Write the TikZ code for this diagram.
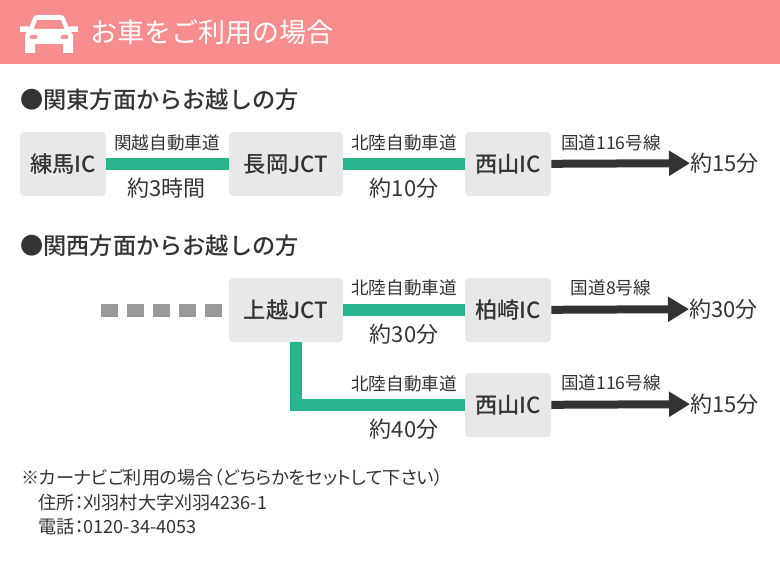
\documentclass[tikz,border=0pt]{standalone}
\usepackage{fontspec}
\setmainfont{Noto Sans CJK JP}[BoldFont={Noto Sans CJK JP Medium}]
\newfontfamily\notefont{Noto Sans CJK JP}[RawFeature=+palt]
\usepackage{xcolor}
\usetikzlibrary{arrows.meta,positioning}
\definecolor{headpink}{HTML}{F88D90}
\definecolor{roadgreen}{HTML}{28B48C}
\definecolor{boxgray}{HTML}{E7E8EA}
\definecolor{inkdark}{HTML}{333333}
\definecolor{dashgray}{HTML}{999999}

\begin{document}
\begin{tikzpicture}[
  x=0.75pt, y=-0.75pt,
  icbox/.style={fill=boxgray, rounded corners=3pt, minimum height=48pt, inner sep=0pt, font=\fontsize{16.7}{18}\selectfont\bfseries, text=inkdark},
  icnarrow/.style={icbox, minimum width=64.5pt},
  icwide/.style={icbox, minimum width=85.5pt},
  road/.style={draw=roadgreen, line width=9pt},
  route/.style={draw=inkdark, line width=6pt, -{Triangle[length=15.75pt,width=18pt]}},
  lead/.style={draw=dashgray, line width=9.75pt, dash pattern=on 12.75pt off 6.75pt},
  roadname/.style={font=\fontsize{13.2}{15}\selectfont, text=inkdark, inner sep=0pt},
  timetext/.style={font=\fontsize{16.5}{18}\selectfont, text=inkdark, inner sep=0pt},
  headtext/.style={font=\fontsize{17.4}{20}\selectfont\bfseries, text=inkdark, inner sep=0pt, anchor=west},
  notetext/.style={font=\notefont\fontsize{13.6}{15}\selectfont, text=inkdark, inner sep=0pt, anchor=west}
]
\useasboundingbox (0,0) rectangle (780,560);

% Title band
\fill[headpink] (0,0) rectangle (780,64);
\node[font=\fontsize{20.25}{24}\selectfont, text=white, inner sep=0pt, anchor=west] (title) at (90,32) {お車をご利用の場合};

% Car icon
\fill[white, even odd rule]
  (38,15) -- (60,15) .. controls (63,15) and (64,16) .. (65,18) -- (68.5,27)
  -- (70,27) -- (70,26.5) -- (78,26.5) -- (78,32) -- (71,32)
  .. controls (72.5,33.5) and (73,34.5) .. (73,36) -- (73,53)
  -- (63,53) -- (63,44) -- (35,44) -- (35,53) -- (25,53) -- (25,36)
  .. controls (25,34.5) and (25.5,33.5) .. (27,32) -- (20,32) -- (20,26.5) -- (28,26.5) -- (28,27) -- (29.5,27)
  -- (33,18) .. controls (34,16) and (35,15) .. (38,15) -- cycle
  (37,20) -- (33.5,29) -- (64.5,29) -- (61,20) -- cycle
  (31,35) .. controls (29,35) and (29,39) .. (31,39) -- (36,39) .. controls (38,39) and (38,35) .. (36,35) -- cycle
  (62,35) .. controls (60,35) and (60,39) .. (62,39) -- (67,39) .. controls (69,39) and (69,35) .. (67,35) -- cycle;

% From Kanto
\node[headtext] (kantohead) at (20,100) {●関東方面からお越しの方};
\node[icnarrow] (nerima) at (63,164) {練馬IC};
\node[icwide] (nagaoka) at (286,164) {長岡JCT};
\node[icnarrow] (nishiyamaA) at (508,164) {西山IC};
\node[timetext, anchor=west] (timeA) at (690,163) {約15分};
\draw[road] (nerima) -- (nagaoka);
\draw[road] (nagaoka) -- (nishiyamaA);
\draw[route] (nishiyamaA) -- (timeA);
\node[roadname] (kanetsu) at (167,143) {関越自動車道};
\node[roadname] (hokurikuA) at (404,143) {北陸自動車道};
\node[roadname] (kokudoA) at (611,143) {国道116号線};
\node[timetext] (time3h) at (166.5,188) {約3時間};
\node[timetext] (time10) at (404,188) {約10分};

% From Kansai
\node[headtext] (kansaihead) at (20,246) {●関西方面からお越しの方};
\coordinate (leadstart) at (101,310);
\node[icwide] (joetsu) at (286,310) {上越JCT};
\node[icnarrow] (kashiwazaki) at (508,310) {柏崎IC};
\node[icnarrow] (nishiyamaB) at (508,405) {西山IC};
\node[timetext, anchor=west] (timeB) at (689,309) {約30分};
\node[timetext, anchor=west] (timeC) at (690,404) {約15分};
\draw[lead] (leadstart) -- (joetsu);
\draw[road] (joetsu) -- (kashiwazaki);
\draw[road] ([xshift=7.5pt]joetsu.south) |- (nishiyamaB);
\draw[route] (kashiwazaki) -- (timeB);
\draw[route] (nishiyamaB) -- (timeC);
\node[roadname] (hokurikuB) at (404,288) {北陸自動車道};
\node[roadname] (hokurikuC) at (404,384) {北陸自動車道};
\node[roadname] (kokudoB) at (611,288) {国道8号線};
\node[roadname] (kokudoC) at (611,383) {国道116号線};
\node[timetext] (time30) at (404,334) {約30分};
\node[timetext] (time40) at (404,429) {約40分};

% Car navigation note
\node[notetext] (noteA) at (21,478) {※カーナビご利用の場合（どちらかをセットして下さい）};
\node[notetext] (noteB) at (38,503) {住所：刈羽村大字刈羽4236-1};
\node[notetext] (noteC) at (38,527) {電話：0120-34-4053};
\end{tikzpicture}
\end{document}
